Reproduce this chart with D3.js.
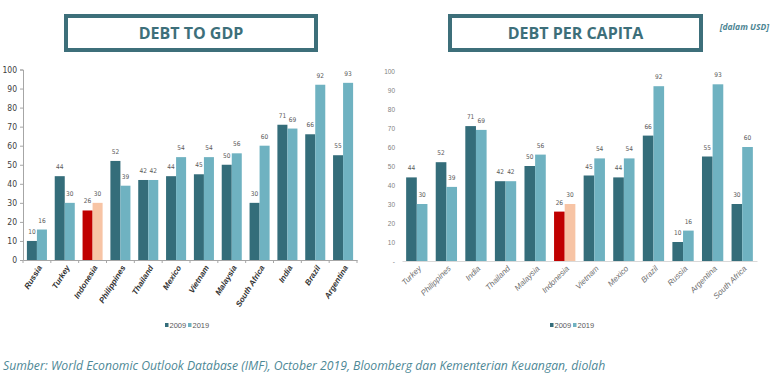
<!DOCTYPE html>
<html>
<head>
<meta charset="utf-8">
<script src="https://cdn.jsdelivr.net/npm/d3@7"></script>
<style>
  body { margin: 0; background: #fff; }
  svg { display: block; }
</style>
</head>
<body>
<svg width="775" height="378"></svg>
<script>
// data
var gdpCountries = ["Russia", "Turkey", "Indonesia", "Philippines", "Thailand", "Mexico",
                    "Vietnam", "Malaysia", "South Africa", "India", "Brazil", "Argentina"];
var gdp2009 = [10, 44, 26, 52, 42, 44, 45, 50, 30, 71, 66, 55];
var gdp2019 = [16, 30, 30, 39, 42, 54, 54, 56, 60, 69, 92, 93];

var capCountries = ["Turkey", "Philippines", "India", "Thailand", "Malaysia", "Indonesia",
                    "Vietnam", "Mexico", "Brazil", "Russia", "Argentina", "South Africa"];
var cap2009 = [44, 52, 71, 42, 50, 26, 45, 44, 66, 10, 55, 30];
var cap2019 = [30, 39, 69, 42, 56, 30, 54, 54, 92, 16, 93, 60];

var yTicks = [0, 10, 20, 30, 40, 50, 60, 70, 80, 90, 100];
var years = ["2009", "2019"];

var dark = "#346d7a", light = "#6fb2c1";
var hiDark = "#c00000", hiLight = "#f7c4a5";
var teal = "#3d6f7a";
var narrow = "'DejaVu Sans Condensed', sans-serif";

var svg = d3.select("svg");

function panel(opt) {
    var g = svg.append("g");

    // title box
    g.append("rect")
        .attr("x", opt.box[0]).attr("y", 16)
        .attr("width", opt.box[1] - opt.box[0]).attr("height", 34)
        .attr("fill", "#fff").attr("stroke", teal).attr("stroke-width", 4);
    g.append("text")
        .attr("x", (opt.box[0] + opt.box[1]) / 2).attr("y", 39)
        .attr("text-anchor", "middle")
        .attr("font-family", "Open Sans").attr("font-weight", "bold")
        .attr("font-size", 16).attr("fill", teal)
        .text(opt.title);

    var x = d3.scaleBand().domain(opt.cats).range(opt.xr)
        .paddingInner(0.28).paddingOuter(0.14);
    var x2 = d3.scaleBand().domain(years).range([0, x.bandwidth()]);
    var y = d3.scaleLinear().domain([0, 100]).range(opt.yr);

    // y axis
    var ya = g.append("g").attr("transform", "translate(" + opt.xr[0] + ",0)")
        .call(d3.axisLeft(y).tickValues(yTicks).tickSize(opt.left ? 3 : 0)
            .tickFormat(function(d) { return (!opt.left && d === 0) ? "-" : d; }));
    ya.select(".domain").attr("stroke", opt.left ? "#a6a6a6" : "none");
    ya.selectAll(".tick line").attr("stroke", "#a6a6a6");
    ya.selectAll("text")
        .attr("font-family", opt.left ? narrow : "Liberation Sans")
        .attr("font-size", opt.left ? 8.5 : 6.5)
        .attr("fill", opt.left ? "#404040" : "#7f7f7f")
        .attr("dx", opt.left ? 0 : -4);

    // x axis
    var xa = g.append("g").attr("transform", "translate(0," + opt.yr[0] + ")")
        .call(d3.axisBottom(x).tickSize(0).tickSizeOuter(0).tickFormat(""));
    xa.select(".domain").attr("stroke", opt.left ? "#a6a6a6" : "#d9d9d9");
    if (opt.left) {
        var bounds = opt.cats.map(function(c) { return x(c) - x.step() * x.paddingInner() / 2; });
        bounds.push(opt.xr[1]);
        g.selectAll(".xt").data(bounds).enter().append("line")
            .attr("x1", function(d) { return d; }).attr("x2", function(d) { return d; })
            .attr("y1", opt.yr[0]).attr("y2", opt.yr[0] + 3)
            .attr("stroke", "#a6a6a6");
    }

    // category labels
    g.selectAll(".cl").data(opt.cats).enter().append("text")
        .attr("transform", function(d) {
            return "translate(" + (x(d) + x.bandwidth() / 2 + 3) + "," + (opt.yr[0] + 6) + ") rotate(" + opt.rot + ")";
        })
        .attr("text-anchor", "end").attr("dy", "0.35em")
        .attr("font-family", "Liberation Sans").attr("font-style", "italic")
        .attr("font-weight", opt.left ? "bold" : "normal")
        .attr("font-size", 8)
        .attr("fill", opt.left ? "#333333" : "#6f6f6f")
        .text(function(d) { return d; });

    // bars
    var rows = opt.cats.map(function(c, i) {
        return { c: c, v: [opt.a[i], opt.b[i]] };
    });
    var grp = g.selectAll(".grp").data(rows).enter().append("g")
        .attr("transform", function(d) { return "translate(" + x(d.c) + ",0)"; });
    grp.selectAll("rect").data(function(d) {
        return d.v.map(function(v, k) { return { c: d.c, k: k, v: v }; });
    }).enter().append("rect")
        .attr("x", function(d) { return x2(years[d.k]); })
        .attr("width", x2.bandwidth())
        .attr("y", function(d) { return y(d.v); })
        .attr("height", function(d) { return y(0) - y(d.v); })
        .attr("fill", function(d) {
            if (d.c === "Indonesia") return d.k ? hiLight : hiDark;
            return d.k ? light : dark;
        });
    grp.selectAll("text").data(function(d) {
        return d.v.map(function(v, k) { return { k: k, v: v }; });
    }).enter().append("text")
        .attr("x", function(d) { return x2(years[d.k]) + x2.bandwidth() / 2; })
        .attr("y", function(d) { return y(d.v) - 7; })
        .attr("text-anchor", "middle")
        .attr("font-family", narrow).attr("font-size", 6.5)
        .attr("fill", "#595959")
        .text(function(d) { return d.v; });

    // legend
    var lg = g.append("g").attr("transform", "translate(" + opt.leg + ",326)");
    years.forEach(function(yr, k) {
        lg.append("rect").attr("x", k * 23).attr("y", -3)
            .attr("width", 3.5).attr("height", 4).attr("fill", k ? light : dark);
        lg.append("text").attr("x", k * 23 + 4.5).attr("y", 0).attr("dy", "0.3em")
            .attr("font-family", "Liberation Sans").attr("font-size", 7.5)
            .attr("fill", "#595959").text(yr);
    });
}

panel({ title: "DEBT TO GDP", box: [66, 316], cats: gdpCountries, a: gdp2009, b: gdp2019,
        xr: [23, 357], yr: [260, 69.5], left: true, rot: -58, leg: 165 });
panel({ title: "DEBT PER CAPITA", box: [450, 701], cats: capCountries, a: cap2009, b: cap2019,
        xr: [402, 757], yr: [261, 71], left: false, rot: -45, leg: 550 });

svg.append("text").attr("x", 769).attr("y", 30).attr("text-anchor", "end")
    .attr("font-family", "Open Sans").attr("font-style", "italic").attr("font-weight", "bold")
    .attr("font-size", 8.5).attr("fill", "#4d8593").text("[dalam USD]");

svg.append("text").attr("x", 3).attr("y", 370)
    .attr("font-family", "Open Sans").attr("font-style", "italic")
    .attr("font-size", 12.2).attr("fill", "#4d8896")
    .text("Sumber: World Economic Outlook Database (IMF), October 2019, Bloomberg dan Kementerian Keuangan, diolah");
</script>
</body>
</html>
